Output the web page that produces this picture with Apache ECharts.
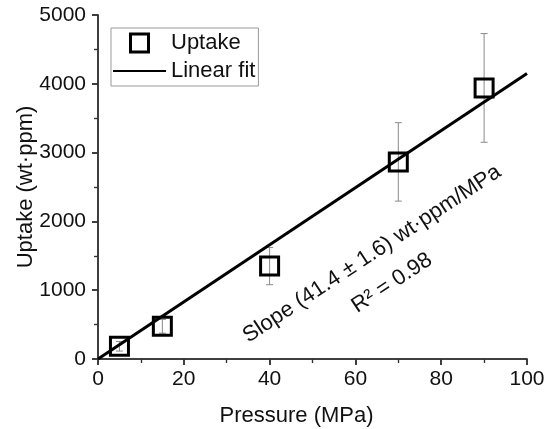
<!DOCTYPE html>
<html>
<head>
<meta charset="utf-8">
<script src="https://cdn.jsdelivr.net/npm/echarts@6/dist/echarts.min.js"></script>
<style>html,body{margin:0;padding:0;background:#fff}#c{width:552px;height:429px}</style>
</head>
<body>
<div id="c"></div>
<script>
// Data
const pressure = [5, 15, 40, 70, 90];
const uptake = [185, 475, 1350, 2865, 3940];
const uptakeErr = [70, 100, 270, 570, 790];
const fitX = [0, 100];
const fitY = [0, 4150];
const xTicks = [0, 20, 40, 60, 80, 100];
const yTicks = [0, 1000, 2000, 3000, 4000, 5000];
const slopeText = 'Slope (41.4 \u00B1 1.6) wt\u00B7ppm/MPa';
const r2Text = 'R\u00B2 = 0.98';

const FONT = 'Liberation Sans, Arial, sans-serif';
const FS = 22;
const AX = '#333';
const chart = echarts.init(document.getElementById('c'));

const scatterData = pressure.map((p, i) => [p, uptake[i]]);
const errData = pressure.map((p, i) => [p, uptake[i] - uptakeErr[i], uptake[i] + uptakeErr[i]]);
const fitData = fitX.map((x, i) => [x, fitY[i]]);

function axisCommon(pos, inside, showLabel) {
  return {
    type: 'value', position: pos,
    min: 0,
    nameMoveOverlap: false,
    axisLine: { show: true, lineStyle: { color: AX, width: 1.5 } },
    axisTick: { show: true, inside: inside, length: 6, lineStyle: { color: AX, width: 1.5 } },
    minorTick: { show: true, splitNumber: 2, length: 4, lineStyle: { color: AX, width: 1.2 } },
    splitLine: { show: false },
    axisLabel: { show: showLabel, fontFamily: FONT, fontSize: 21, color: '#111', formatter: v => String(v) }
  };
}

const xb = Object.assign(axisCommon('bottom', false, true), {
  max: 100, interval: xTicks[1] - xTicks[0],
  name: 'Pressure (MPa)', nameLocation: 'middle', nameGap: 46,
  nameTextStyle: { fontFamily: FONT, fontSize: FS, color: '#111', padding: [0, 32, 0, 0] }
});
xb.axisLabel.margin = 10;
const xt = Object.assign(axisCommon('top', true, false), { max: 100, interval: 20 });
const yl = Object.assign(axisCommon('left', false, true), {
  max: 5000, interval: yTicks[1] - yTicks[0],
  name: 'Uptake (wt\u00B7ppm)', nameLocation: 'middle', nameGap: 61,
  nameTextStyle: { fontFamily: FONT, fontSize: FS, color: '#111' }
});
yl.axisLabel.margin = 12;
const yr = Object.assign(axisCommon('right', true, false), { max: 5000, interval: 1000 });

chart.setOption({
  animation: false,
  backgroundColor: '#fff',
  grid: { left: 98, right: 25, top: 15, bottom: 70, containLabel: false, outerBoundsMode: 'none' },
  xAxis: [xb, xt],
  yAxis: [yl, yr],
  legend: {
    orient: 'vertical', left: 111, top: 28,
    padding: [4, 3, 4, 1], itemGap: 6,
    itemWidth: 53, itemHeight: 18,
    borderColor: '#999', borderWidth: 1,
    textStyle: { fontFamily: FONT, fontSize: FS, color: '#111' },
    data: [
      { name: 'Uptake', icon: 'path://M0,0H10V10H0Z',
        itemStyle: { color: 'rgba(255,255,255,0)', borderColor: '#000', borderWidth: 3 } },
      { name: 'Linear fit', itemStyle: { color: 'rgba(0,0,0,0)', borderWidth: 0, opacity: 0 } }
    ]
  },
  series: [
    {
      type: 'custom', name: 'err', xAxisIndex: 0, yAxisIndex: 0,
      data: errData, z: 1,
      renderItem: function (params, api) {
        const x = api.value(0);
        const lo = api.coord([x, api.value(1)]);
        const hi = api.coord([x, api.value(2)]);
        const cw = 3.5;
        const st = { stroke: '#8a8a8a', lineWidth: 1 };
        return {
          type: 'group', children: [
            { type: 'line', shape: { x1: lo[0], y1: lo[1], x2: hi[0], y2: hi[1] }, style: st },
            { type: 'line', shape: { x1: lo[0] - cw, y1: lo[1], x2: lo[0] + cw, y2: lo[1] }, style: st },
            { type: 'line', shape: { x1: hi[0] - cw, y1: hi[1], x2: hi[0] + cw, y2: hi[1] }, style: st }
          ]
        };
      },
      encode: { x: 0, y: [1, 2] }
    },
    {
      type: 'line', name: 'Linear fit', data: fitData, symbol: 'none', z: 2,
      lineStyle: { color: '#000', width: 3 }, itemStyle: { color: '#000' }
    },
    {
      type: 'scatter', name: 'Uptake', data: scatterData, symbol: 'rect', symbolSize: 18, z: 3,
      itemStyle: { color: 'rgba(255,255,255,0)', borderColor: '#000', borderWidth: 3, opacity: 1 }
    }
  ],
  graphic: [
    {
      type: 'text', x: 372, y: 254, rotation: 33.5 * Math.PI / 180,
      style: { text: slopeText, fontFamily: FONT, fontSize: FS, fill: '#111', align: 'center', verticalAlign: 'middle' }
    },
    {
      type: 'text', x: 392, y: 283, rotation: 33.5 * Math.PI / 180,
      style: { text: r2Text, fontFamily: FONT, fontSize: FS, fill: '#111', align: 'center', verticalAlign: 'middle' }
    }
  ]
});
</script>
</body>
</html>
